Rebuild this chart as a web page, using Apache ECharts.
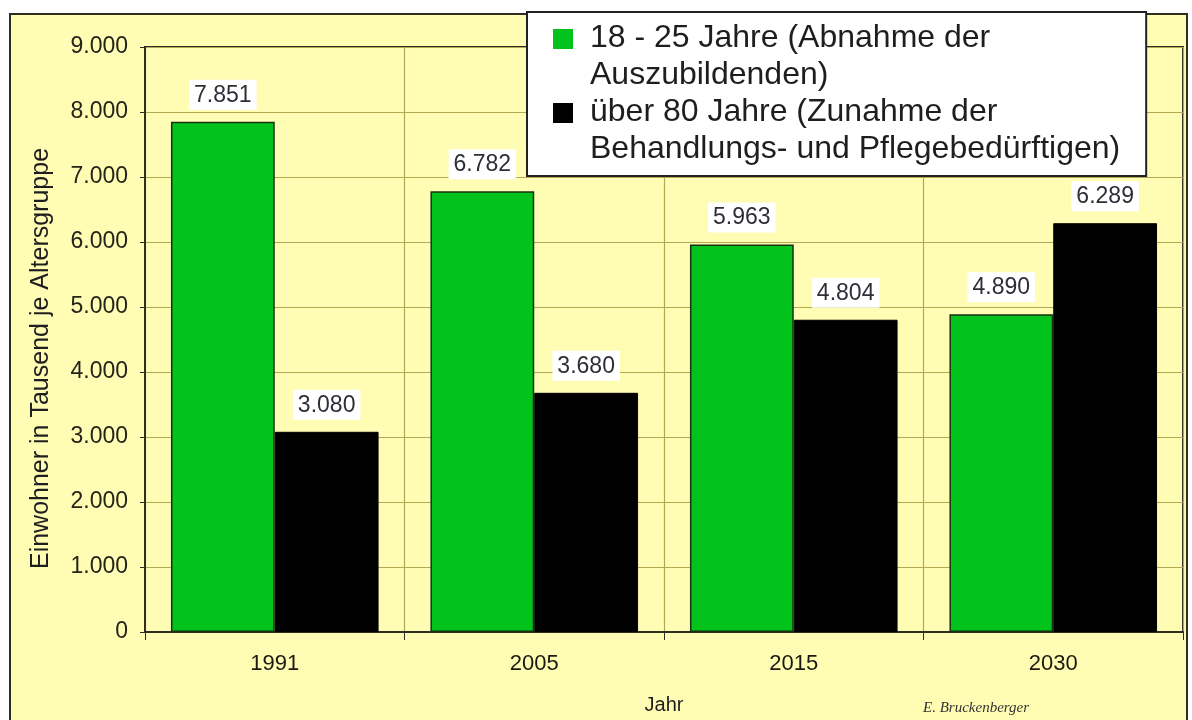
<!DOCTYPE html>
<html>
<head>
<meta charset="utf-8">
<script src="https://cdn.jsdelivr.net/npm/echarts@6/dist/echarts.min.js"></script>
<style>
html,body{margin:0;padding:0;background:#fff;}
#chart{width:1192px;height:720px;}
</style>
</head>
<body>
<div id="chart"></div>
<script>
const categories = ['1991', '2005', '2015', '2030'];
const youngValues = [7851, 6782, 5963, 4890];
const oldValues = [3080, 3680, 4804, 6289];
const youngName = '18 - 25 Jahre (Abnahme der\nAuszubildenden)';
const oldName = 'über 80 Jahre (Zunahme der\nBehandlungs- und Pflegebedürftigen)';
const yAxisTitle = 'Einwohner in Tausend je Altersgruppe';
const xAxisTitle = 'Jahr';
const author = 'E. Bruckenberger';

function fmt(v) {
  if (v < 1000) return String(v);
  return Math.floor(v / 1000) + '.' + String(v % 1000).padStart(3, '0');
}

const FONT = '"Liberation Sans", Arial, sans-serif';
const YELLOW = '#fffcb4';
const DARK = '#2e2e22';
const GRIDLINE = '#b3a955';
const legendIcon = 'path://M0,0L0.01,0M0,9L20,9L20,29L0,29ZM0,74L0.01,74';

const chart = echarts.init(document.getElementById('chart'));
chart.setOption({
  animation: false,
  backgroundColor: '#ffffff',
  textStyle: { fontFamily: FONT },
  graphic: [{
    type: 'rect', z: -10,
    shape: { x: 10, y: 14, width: 1177, height: 730 },
    style: { fill: YELLOW, stroke: DARK, lineWidth: 2 }
  }],
  title: [{
    text: author,
    left: 918, top: 696,
    textStyle: { fontFamily: '"Liberation Serif", "DejaVu Serif", serif', fontStyle: 'italic', fontWeight: 'normal', fontSize: 15, color: '#333' }
  }],
  legend: {
    orient: 'vertical',
    left: 527, top: 12,
    padding: [8, 26, 8, 26],
    backgroundColor: '#ffffff',
    borderColor: '#222',
    borderWidth: 2,
    itemGap: 0,
    itemWidth: 20,
    itemHeight: 74,
    icon: legendIcon,
    itemStyle: { borderWidth: 0 },
    textStyle: { fontFamily: FONT, fontSize: 32, lineHeight: 37, color: '#1e1e1e', padding: [0, 0, 0, 12] },
    data: [youngName, oldName]
  },
  grid: {
    left: 145, top: 47, right: 9, bottom: 88,
    show: true,
    backgroundColor: YELLOW,
    borderColor: DARK,
    borderWidth: 2
  },
  xAxis: {
    type: 'category',
    data: categories,
    name: xAxisTitle,
    nameLocation: 'middle',
    nameGap: 63,
    nameTextStyle: { fontFamily: FONT, fontSize: 20, color: '#1e1e1e' },
    axisLine: { lineStyle: { color: DARK, width: 2 } },
    axisTick: { show: true, length: 8, lineStyle: { color: DARK, width: 1 } },
    axisLabel: { margin: 21, fontSize: 22, color: '#1a1a10', fontFamily: FONT },
    splitLine: { show: true, lineStyle: { color: GRIDLINE, width: 1.2 } }
  },
  yAxis: {
    type: 'value',
    min: 0, max: 9000, interval: 1000,
    name: yAxisTitle,
    nameLocation: 'middle',
    nameGap: 91,
    nameTextStyle: { fontFamily: FONT, fontSize: 25, color: '#1e1e1e', padding: [0, 38, 0, 0] },
    axisLine: { show: true, lineStyle: { color: DARK, width: 2 } },
    axisTick: { show: true, length: 5, lineStyle: { color: DARK, width: 1 } },
    axisLabel: { margin: 17, fontSize: 23, color: '#24241a', fontFamily: FONT, formatter: fmt },
    splitLine: { show: true, lineStyle: { color: GRIDLINE, width: 1.2 } }
  },
  series: [{
    name: youngName,
    type: 'bar',
    data: youngValues,
    barWidth: '40%',
    barGap: '0%',
    itemStyle: { color: '#02c21c', borderColor: '#18300f', borderWidth: 1.5 },
    label: {
      show: true, position: 'top', distance: 12,
      formatter: p => fmt(p.value),
      backgroundColor: '#ffffff', padding: [4, 5, 3, 5],
      fontSize: 23, color: '#2e2e38', fontFamily: FONT
    }
  }, {
    name: oldName,
    type: 'bar',
    data: oldValues,
    barWidth: '40%',
    barGap: '0%',
    itemStyle: { color: '#000000', borderColor: '#000000', borderWidth: 1 },
    label: {
      show: true, position: 'top', distance: 12,
      formatter: p => fmt(p.value),
      backgroundColor: '#ffffff', padding: [4, 5, 3, 5],
      fontSize: 23, color: '#2e2e38', fontFamily: FONT
    }
  }]
});
</script>
</body>
</html>
